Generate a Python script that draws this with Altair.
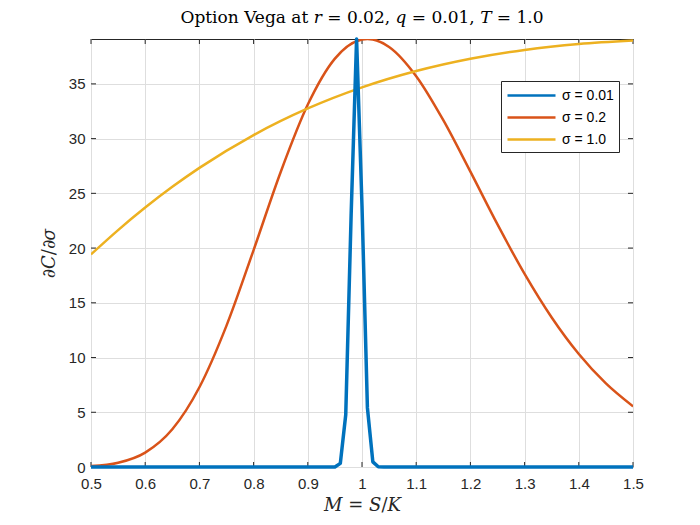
import altair as alt
import pandas as pd

# sigma = 0.01
x1 = [0.50, 0.94, 0.95, 0.96, 0.97, 0.98, 0.99, 1.00, 1.01, 1.02, 1.03, 1.04, 1.50]
v1 = [0.0, 0.0, 0.008, 0.333, 4.775, 23.12, 39.10, 23.84, 5.399, 0.468, 0.016, 0.0, 0.0]
# sigma = 0.2
x2 = [0.50, 0.55, 0.60, 0.65, 0.70, 0.75, 0.80, 0.85, 0.90, 0.95, 1.00, 1.01, 1.02,
      1.05, 1.10, 1.15, 1.20, 1.25, 1.30, 1.35, 1.40, 1.45, 1.50]
v2 = [0.081, 0.386, 1.317, 3.447, 7.283, 12.915, 19.82, 26.955, 33.11, 37.31, 39.055,
      39.104, 39.06, 38.375, 35.70, 31.68, 26.98, 22.16, 17.64, 13.658, 10.319, 7.631, 5.536]
# sigma = 1.0
x3 = [0.50, 0.55, 0.60, 0.65, 0.70, 0.80, 0.90, 1.00, 1.10, 1.20, 1.30, 1.40, 1.50]
v3 = [19.42, 21.64, 23.698, 25.593, 27.325, 30.324, 32.753, 34.680, 36.173, 37.296,
      38.104, 38.647, 38.965]

labels = ["σ = 0.01", "σ = 0.2", "σ = 1.0"]
colors = ["#0072BD", "#D95319", "#EDB120"]
xticks = [0.5, 0.6, 0.7, 0.8, 0.9, 1.0, 1.1, 1.2, 1.3, 1.4, 1.5]
yticks = [0, 5, 10, 15, 20, 25, 30, 35]

rows = []
for lab, xs, vs in zip(labels, [x1, x2, x3], [v1, v2, v3]):
    for a, b in zip(xs, vs):
        rows.append({"M": a, "vega": b, "series": lab})
df = pd.DataFrame(rows)

W, H = 542, 428
XMIN, XMAX, YMAX = 0.5, 1.5, 39.1

xs = alt.Scale(domain=[XMIN, XMAX], nice=False, zero=False)
ys = alt.Scale(domain=[0, YMAX], nice=False, zero=True)

color = alt.Color(
    "series:N",
    scale=alt.Scale(domain=labels, range=colors),
    legend=alt.Legend(
        title=None, orient="none", legendX=410, legendY=42,
        symbolType="M-1,0L5,0", symbolSize=256, symbolStrokeWidth=2.5,
        labelFont="Liberation Sans", labelFontSize=14, labelColor="#000000",
        strokeColor="#262626", fillColor="#ffffff", padding=5,
        rowPadding=5, labelOffset=37, labelLimit=200,
    ),
)

lines = alt.Chart(df).mark_line(strokeWidth=2.5, clip=True, interpolate="monotone").encode(
    x=alt.X("M:Q", scale=xs,
            axis=alt.Axis(values=xticks, title="𝑀 = 𝑆/𝐾", grid=True, domain=False,
                          ticks=False, labelPadding=9, labelFlush=False,
                          labelExpr="datum.value == 1 ? '1' : format(datum.value, '.1f')")),
    y=alt.Y("vega:Q", scale=ys,
            axis=alt.Axis(values=yticks, title="∂𝐶/∂𝜎", grid=True, domain=False,
                          ticks=False, labelPadding=6)),
    color=color,
    order=alt.Order("M:Q"),
)

blue = alt.Chart(df[df.series == labels[0]]).mark_line(
    strokeWidth=3.5, clip=False, color=colors[0], strokeJoin="round"
).encode(
    x=alt.X("M:Q", scale=xs),
    y=alt.Y("vega:Q", scale=ys),
    order=alt.Order("M:Q"),
)

red_yel = lines.transform_filter(alt.datum.series != labels[0])

# inward tick marks
xt = pd.DataFrame({"t": xticks})
yt = pd.DataFrame({"t": yticks})
tk = "#262626"
tb = alt.Chart(xt).mark_rule(color=tk, strokeWidth=1).encode(
    x=alt.X("t:Q", scale=xs), y=alt.value(H), y2=alt.value(H - 5))
tt = alt.Chart(xt).mark_rule(color=tk, strokeWidth=1).encode(
    x=alt.X("t:Q", scale=xs), y=alt.value(0), y2=alt.value(5))
tl = alt.Chart(yt).mark_rule(color=tk, strokeWidth=1).encode(
    y=alt.Y("t:Q", scale=ys), x=alt.value(0), x2=alt.value(5))
tr = alt.Chart(yt).mark_rule(color=tk, strokeWidth=1).encode(
    y=alt.Y("t:Q", scale=ys), x=alt.value(W), x2=alt.value(W - 5))

chart = alt.layer(tb, tt, tl, tr, red_yel, blue).properties(
    width=W, height=H,
    title=alt.TitleParams("Option Vega at 𝑟 = 0.02, 𝑞 = 0.01, 𝑇 = 1.0",
                          font="DejaVu Serif", fontSize=17, fontWeight="normal",
                          color="#000000", offset=10),
    autosize=alt.AutoSizeParams(type="none"),
    padding={"left": 83, "top": 31, "right": 40, "bottom": 60},
).configure_view(
    stroke="#262626", strokeWidth=1
).configure_axis(
    labelFont="Liberation Sans", labelFontSize=15, labelColor="#262626",
    titleFont="DejaVu Serif", titleFontSize=18, titleFontStyle="normal",
    titleFontWeight="normal", titleColor="#262626",
    gridColor="#dedede", gridWidth=1,
).configure_axisX(titlePadding=5).configure_axisY(titlePadding=10)

chart.save("out.html", embed_options={"renderer": "svg", "actions": False})
